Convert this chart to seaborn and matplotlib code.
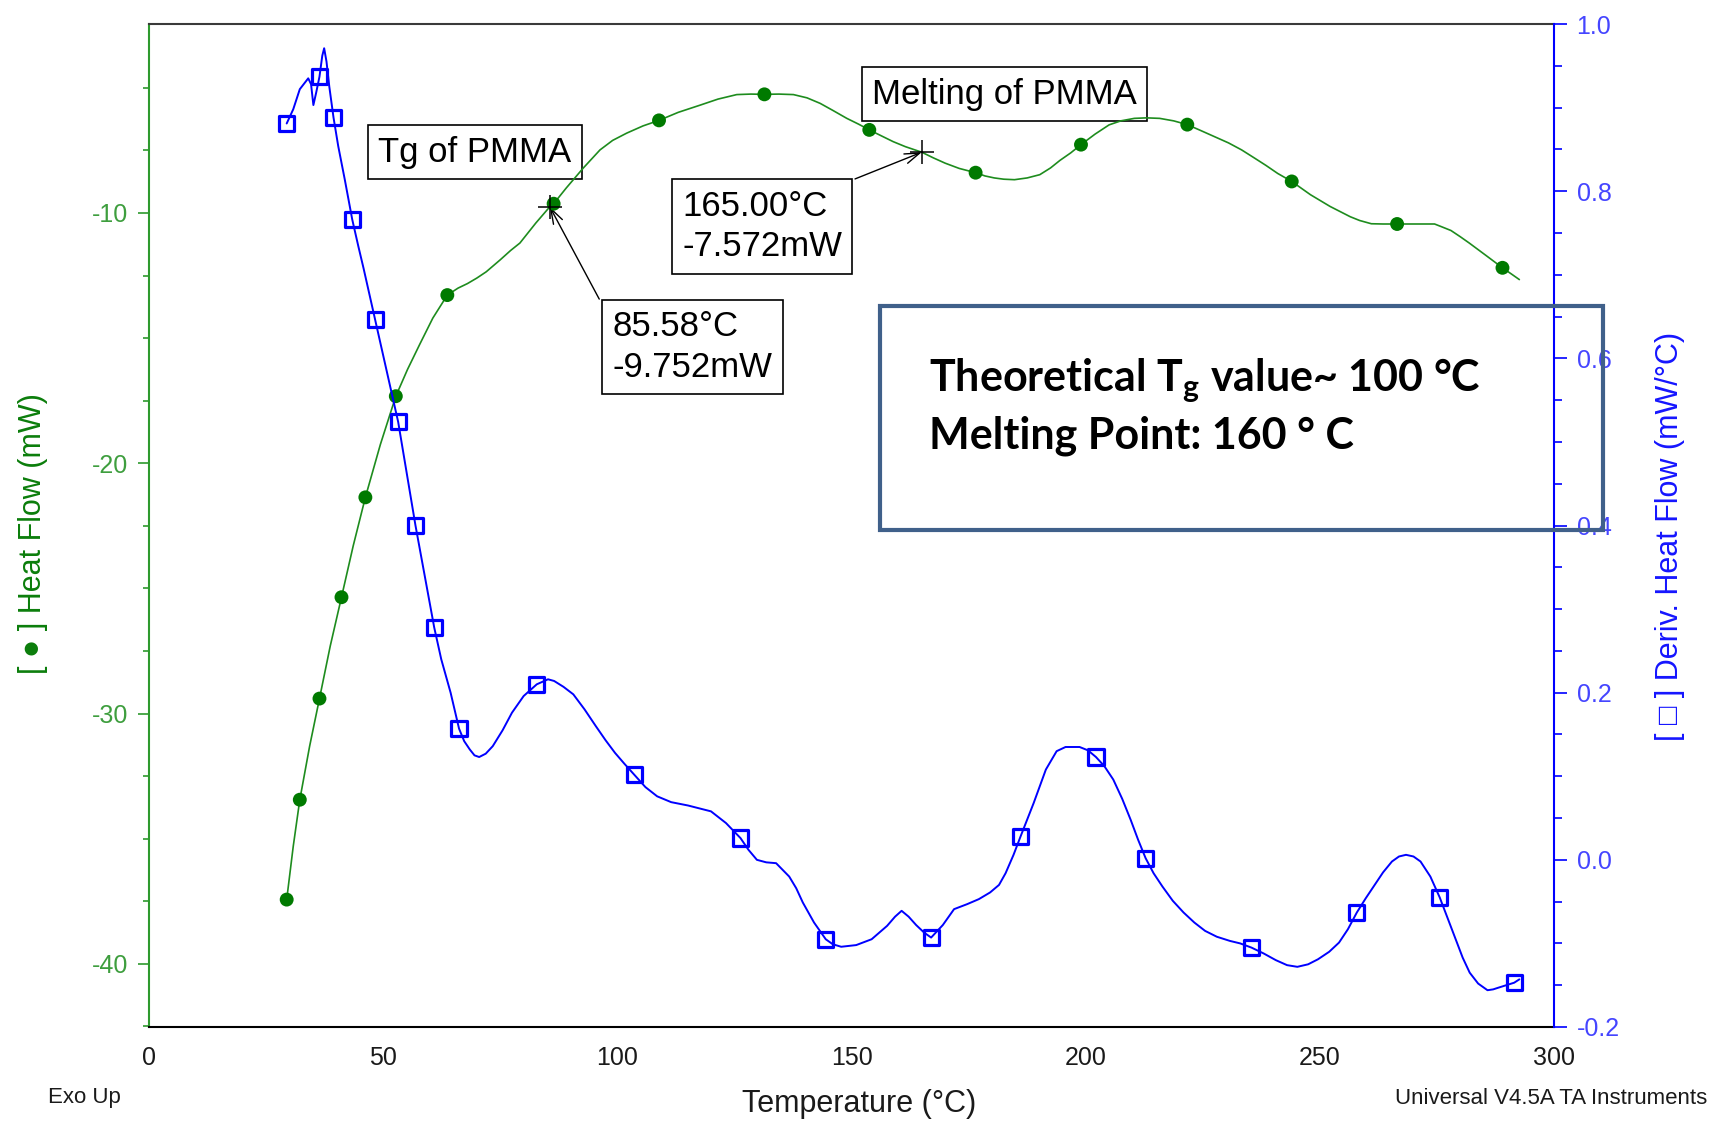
import matplotlib
matplotlib.use("Agg")
import matplotlib.pyplot as plt
import numpy as np
import pandas as pd
import seaborn as sns
from matplotlib.ticker import MultipleLocator, FixedLocator, FormatStrFormatter
from matplotlib.patches import Rectangle

# ---- Heat flow trace (mW) ----
hf_temp = [29.4, 30.8, 32.2, 34.3, 36.4, 38.7, 41.1, 43.6, 46.2, 49.4, 52.7, 55.2,
           57.8, 60.6, 63.7, 66.0, 68.0, 70.0, 72.0, 75.0, 77.2, 79.2, 82.6, 85.58,
           86.4, 89.1, 92.7, 96.3, 99.0, 102.0, 105.5, 108.9, 113.0, 117.7, 121.5,
           125.5, 128.5, 131.4, 134.5, 137.6, 140.5, 143.3, 146.0, 149.0, 151.5,
           153.8, 156.5, 158.9, 161.5, 165.0, 167.5, 170.0, 173.0, 176.5, 178.5,
           180.5, 182.5, 184.8, 187.5, 190.2, 192.5, 194.5, 196.8, 199.0, 202.0,
           205.0, 207.5, 210.4, 213.0, 215.8, 218.8, 221.7, 224.5, 227.5, 230.5,
           233.3, 236.0, 238.5, 241.0, 244.0, 248.0, 252.2, 256.5, 258.5, 261.0,
           263.5, 266.5, 270.5, 274.5, 276.0, 278.0, 280.0, 281.9, 283.7, 285.5,
           289.0, 291.0, 292.6]
hf_mw = [-37.43, -35.30, -33.44, -31.30, -29.40, -27.30, -25.35, -23.30, -21.36, -19.25,
         -17.32, -16.25, -15.25, -14.20, -13.28, -13.00, -12.82, -12.60, -12.35, -11.87,
         -11.50, -11.20, -10.40, -9.752, -9.63, -9.00, -8.21, -7.48, -7.10, -6.81,
         -6.52, -6.30, -5.98, -5.69, -5.45, -5.27, -5.25, -5.26, -5.25, -5.27, -5.40,
         -5.62, -5.90, -6.22, -6.45, -6.68, -6.93, -7.15, -7.35, -7.572, -7.80, -8.01,
         -8.22, -8.39, -8.52, -8.60, -8.65, -8.67, -8.60, -8.47, -8.20, -7.90, -7.60,
         -7.27, -6.85, -6.48, -6.32, -6.22, -6.20, -6.22, -6.32, -6.47, -6.70, -6.95,
         -7.20, -7.48, -7.80, -8.10, -8.42, -8.74, -9.27, -9.74, -10.15, -10.30,
         -10.43, -10.44, -10.44, -10.44, -10.44, -10.55, -10.70, -10.95, -11.20,
         -11.45, -11.70, -12.19, -12.45, -12.66]
hf_mark_temp = [29.4, 32.2, 36.4, 41.1, 46.2, 52.7, 63.7, 86.4, 108.9, 131.4, 153.8,
                176.5, 199.0, 221.7, 244.0, 266.5, 289.0]
hf_mark_mw = [-37.43, -33.44, -29.40, -25.35, -21.36, -17.32, -13.28, -9.63, -6.30,
              -5.26, -6.68, -8.39, -7.27, -6.47, -8.74, -10.44, -12.19]

# ---- Derivative heat flow trace (mW/°C) ----
d_temp = [29.4, 30.8, 32.2, 34.0, 34.6, 35.1, 35.7, 36.4, 37.0, 37.4, 37.9, 38.5, 39.4,
          40.4, 41.8, 43.4, 44.7, 45.8, 48.3, 53.2, 56.9, 60.9, 62.4, 64.4, 66.2, 67.3,
          68.5, 69.5, 70.5, 71.9, 73.4, 75.5, 77.5, 80.0, 82.8, 85.2, 86.5, 88.5, 90.6,
          93.0, 95.4, 97.5, 99.5, 101.5, 103.6, 106.0, 108.5, 111.5, 115.1, 120.0,
          123.2, 126.3, 128.0, 129.8, 131.8, 133.9, 136.7, 138.2, 139.6, 142.0, 144.5,
          146.0, 147.8, 151.0, 154.3, 157.6, 159.3, 160.7, 162.2, 163.8, 165.5, 167.0,
          169.5, 171.9, 174.7, 177.2, 179.6, 181.5, 182.9, 184.6, 186.1, 188.9, 191.5,
          193.8, 195.7, 198.7, 200.5, 202.2, 204.0, 205.9, 207.8, 209.6, 211.2, 212.8,
          214.5, 216.4, 218.6, 220.9, 223.2, 225.5, 228.0, 230.8, 233.0, 235.4, 238.0,
          240.6, 243.0, 245.2, 247.5, 249.6, 252.0, 254.1, 256.0, 257.9, 259.8, 261.7,
          263.5, 265.4, 266.9, 268.4, 270.0, 271.5, 273.6, 275.6, 277.3, 279.0, 280.5,
          282.0, 283.8, 285.8, 287.0, 288.1, 291.5, 292.6]
d_val = [0.881, 0.898, 0.922, 0.935, 0.928, 0.903, 0.918, 0.937, 0.962, 0.971, 0.955,
         0.925, 0.888, 0.854, 0.814, 0.766, 0.734, 0.708, 0.646, 0.524, 0.400, 0.278,
         0.240, 0.200, 0.157, 0.142, 0.132, 0.125, 0.123, 0.127, 0.136, 0.155, 0.176,
         0.196, 0.210, 0.216, 0.214, 0.207, 0.198, 0.180, 0.160, 0.143, 0.128, 0.115,
         0.102, 0.087, 0.076, 0.069, 0.065, 0.058, 0.044, 0.026, 0.012, 0.000, -0.003,
         -0.004, -0.020, -0.034, -0.051, -0.075, -0.095, -0.101, -0.104, -0.102,
         -0.095, -0.079, -0.068, -0.061, -0.068, -0.078, -0.087, -0.093, -0.078,
         -0.059, -0.053, -0.047, -0.039, -0.030, -0.016, 0.006, 0.028, 0.068, 0.108,
         0.130, 0.135, 0.135, 0.131, 0.123, 0.112, 0.096, 0.073, 0.048, 0.024, 0.002,
         -0.016, -0.032, -0.049, -0.063, -0.075, -0.085, -0.092, -0.097, -0.100,
         -0.105, -0.112, -0.120, -0.126, -0.128, -0.125, -0.119, -0.110, -0.099,
         -0.083, -0.063, -0.046, -0.030, -0.015, -0.002, 0.004, 0.006, 0.004, -0.002,
         -0.020, -0.045, -0.070, -0.095, -0.117, -0.135, -0.148, -0.156, -0.155,
         -0.153, -0.147, -0.143]
d_mark_temp = [29.4, 36.4, 39.4, 43.4, 48.3, 53.2, 56.9, 60.9, 66.2, 82.8, 103.6, 126.3,
               144.5, 167.0, 186.1, 202.2, 212.8, 235.4, 257.9, 275.6, 291.5]
d_mark_val = [0.881, 0.937, 0.888, 0.766, 0.646, 0.524, 0.400, 0.278, 0.157, 0.210,
              0.102, 0.026, -0.095, -0.093, 0.028, 0.123, 0.002, -0.105, -0.063,
              -0.045, -0.147]

# ---- Cursor readouts ----
cursor_temp = [85.58, 165.00]
cursor_mw = [-9.752, -7.572]
cursor_text = ["85.58°C\n-9.752mW", "165.00°C\n-7.572mW"]

x_ticks = [0, 50, 100, 150, 200, 250, 300]
hf_ticks = [-40, -30, -20, -10]
d_ticks = [-0.2, 0.0, 0.2, 0.4, 0.6, 0.8, 1.0]

GREEN_LINE = "#1E8C1E"
GREEN_MARK = "#007A00"
GREEN_SPINE = "#2E9A2E"
GREEN_TICK = "#3E9E3E"
GREEN_LABEL = "#0B7D0B"
BLUE = "#0000FF"
BLUE_TICK = "#4545FF"
BOX_BLUE = "#40608A"

sns.set_theme(style="white")
plt.rcParams["font.family"] = ["Liberation Sans", "DejaVu Sans"]
plt.rcParams["axes.unicode_minus"] = False
plt.rcParams["mathtext.fontset"] = "custom"
plt.rcParams["mathtext.bf"] = "Lato:bold"

W, H = 1710, 1123
fig = plt.figure(figsize=(W / 100, H / 100), dpi=100)
L, R, T, B = 149, 1554, 24, 1027
ax = fig.add_axes([L / W, 1 - B / H, (R - L) / W, (B - T) / H])
ax2 = ax.twinx()

hf_df = pd.DataFrame({"Temperature": hf_temp, "HeatFlow": hf_mw})
d_df = pd.DataFrame({"Temperature": d_temp, "Deriv": d_val})

sns.lineplot(data=hf_df, x="Temperature", y="HeatFlow", ax=ax, sort=False,
             estimator=None, color=GREEN_LINE, linewidth=1.2, zorder=4)
sns.scatterplot(x=hf_mark_temp, y=hf_mark_mw, ax=ax, s=100, color=GREEN_MARK,
                edgecolor="none", zorder=5)
sns.scatterplot(x=cursor_temp, y=cursor_mw, ax=ax, marker="+", s=300,
                color="black", linewidth=1.1, zorder=6)

sns.lineplot(data=d_df, x="Temperature", y="Deriv", ax=ax2, sort=False,
             estimator=None, color=BLUE, linewidth=1.4, zorder=4)
sns.scatterplot(x=d_mark_temp, y=d_mark_val, ax=ax2, marker="s", s=120,
                facecolor="none", edgecolor=BLUE, linewidth=2.3, zorder=5)

ax.set_xlim(0, 300)
ax.set_ylim(-42.52, -2.45)
ax2.set_ylim(-0.2, 1.0)
for a in (ax, ax2):
    a.set_xlabel("")
    a.set_ylabel("")
    a.grid(False)

ax.xaxis.set_major_locator(FixedLocator(x_ticks))
ax.xaxis.set_minor_locator(MultipleLocator(10))
ax.yaxis.set_major_locator(FixedLocator(hf_ticks))
ax.yaxis.set_minor_locator(FixedLocator(np.arange(-42.5, -4.9, 2.5)))
ax.yaxis.set_major_formatter(FormatStrFormatter("%d"))
ax2.yaxis.set_major_locator(FixedLocator(d_ticks))
ax2.yaxis.set_minor_locator(MultipleLocator(0.05))
ax2.yaxis.set_major_formatter(FormatStrFormatter("%.1f"))

ax.tick_params(axis="x", which="major", direction="out", length=8.6, width=1.2,
               color="black", labelcolor="#1a1a1a", labelsize=18, pad=5)
ax.tick_params(axis="x", which="minor", direction="out", length=5.6, width=1.2,
               color="black")
ax.tick_params(axis="y", which="major", direction="out", length=8, width=1.2,
               color=GREEN_SPINE, labelcolor=GREEN_TICK, labelsize=18, pad=7,
               left=True, right=False)
ax.tick_params(axis="y", which="minor", direction="out", length=4.5, width=1.2,
               color=GREEN_SPINE, left=True, right=False)
ax2.tick_params(axis="y", which="major", direction="out", length=9.2, width=1.2,
                color=BLUE, labelcolor=BLUE_TICK, labelsize=18, pad=7,
                right=True, left=False)
ax2.tick_params(axis="y", which="minor", direction="out", length=5.6, width=1.2,
                color=BLUE, right=True, left=False)

for name, sp in ax.spines.items():
    sp.set_linewidth(1.5)
ax.spines["left"].set_color(GREEN_SPINE)
ax.spines["bottom"].set_color("black")
ax.spines["top"].set_color("#3a3a3a")
ax.spines["right"].set_visible(False)
for name in ("left", "top", "bottom"):
    ax2.spines[name].set_visible(False)
ax2.spines["right"].set_color(BLUE)
ax2.spines["right"].set_linewidth(1.5)

# Event labels
box_kw = dict(boxstyle="square,pad=0.3", fc="white", ec="black", lw=1.2)
ax.text(69.6, -7.58, "Tg of PMMA", fontsize=25, ha="center", va="center",
        color="black", bbox=box_kw, zorder=3)
ax.text(182.7, -5.26, "Melting of PMMA", fontsize=25, ha="center", va="center",
        color="black", bbox=box_kw, zorder=3)

# Cursor readout boxes with arrows
readout_pos = [(116.0, -15.35), (130.9, -10.54)]
arrow_start = [(96.14, -13.44), (150.75, -8.64)]
for (tx, ty), (sx, sy), cx, cy, txt in zip(readout_pos, arrow_start, cursor_temp,
                                           cursor_mw, cursor_text):
    ax.text(tx, ty, txt, fontsize=25, ha="center", va="center", multialignment="left",
            linespacing=1.3, color="black", bbox=box_kw, zorder=3)
    ax.annotate("", xy=(cx, cy), xytext=(sx, sy),
                arrowprops=dict(arrowstyle="->,head_length=0.9,head_width=0.3",
                                color="black", lw=1.0, shrinkA=0, shrinkB=0),
                zorder=3)

# Axis titles and footer text
fig.text(33 / W, 1 - 534 / H, "[ ● ] Heat Flow (mW)", rotation=90, ha="center",
         va="center", fontsize=22, color=GREEN_LABEL)
fig.text(1670 / W, 1 - 536 / H, "[ □ ] Deriv. Heat Flow (mW/°C)", rotation=90,
         ha="center", va="center", fontsize=22, color="#1515FF")
fig.text(859 / W, 1 - 1104 / H, "Temperature (°C)", ha="center", va="center",
         fontsize=22, color="#1a1a1a")
fig.text(84 / W, 1 - 1098 / H, "Exo Up", ha="center", va="center", fontsize=16,
         color="#1a1a1a")
fig.text(1707 / W, 1 - 1098 / H, "Universal V4.5A TA Instruments", ha="right",
         va="center", fontsize=16, color="#1a1a1a")

# Reference values panel
fig.patches.append(Rectangle((880 / W, 1 - 530 / H), (1603 - 880) / W, (530 - 306) / H,
                             transform=fig.transFigure, fill=False, ec=BOX_BLUE,
                             lw=3.0, zorder=20))
fig.text(929 / W, 1 - 391 / H, r"Theoretical $\mathbf{T_{g}}$ value~ 100 °C",
         ha="left", va="baseline", fontsize=31, fontweight="bold",
         family=["Lato", "DejaVu Sans"], color="black", zorder=21)
fig.text(929 / W, 1 - 448 / H, "Melting Point: 160 ° C", ha="left", va="baseline",
         fontsize=31, fontweight="bold", family=["Lato", "DejaVu Sans"],
         color="black", zorder=21)

fig.savefig("out.png", dpi=100, facecolor="white")
